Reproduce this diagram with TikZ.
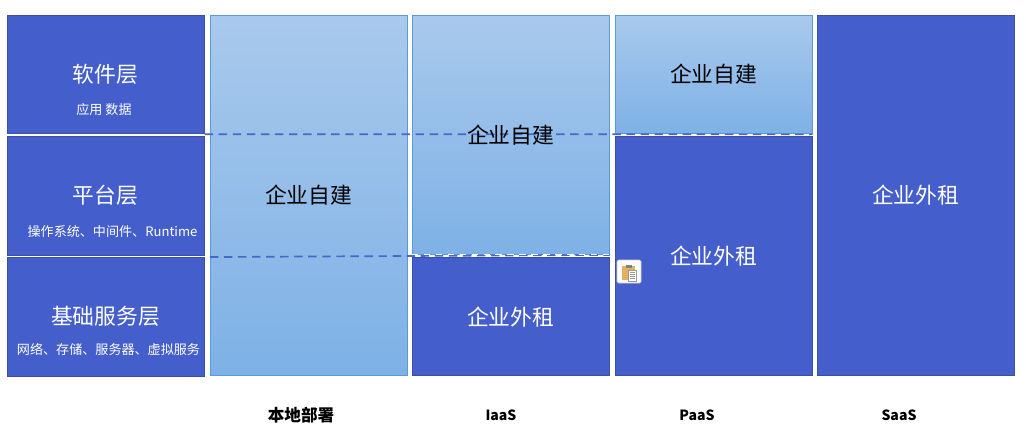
\documentclass[tikz,border=0pt]{standalone}
\usepackage{fontspec}
\setmainfont{Noto Sans CJK SC}
\usetikzlibrary{positioning}
\definecolor{fdeep}{HTML}{445FCB}
\definecolor{fdeepline}{HTML}{3B509F}
\definecolor{flighttop}{HTML}{A9C9EC}
\definecolor{flightend}{HTML}{7EB1E6}
\definecolor{flightline}{HTML}{5B9BD5}
\definecolor{fdash}{HTML}{4A66C8}
\definecolor{fclip}{HTML}{E3B05E}
\tikzset{
  rentbox/.style  = {draw=fdeepline, fill=fdeep, text=white, line width=0.6pt,
                     minimum width=49.25mm, inner sep=0pt, font=\fontsize{15.5}{18}\selectfont},
  selfbox/.style  = {draw=flightline, top color=flighttop, bottom color=flightend,
                     line width=0.6pt, minimum width=49.25mm, inner sep=0pt,
                     font=\fontsize{15.5}{18}\selectfont},
  bigtext/.style  = {inner sep=0pt, font=\fontsize{15.5}{18}\selectfont},
  sublabel/.style = {text=white, inner sep=0pt, font=\fontsize{9.3}{11}\selectfont},
  modelname/.style= {inner sep=0pt, font=\fontsize{10}{14}\selectfont\bfseries},
  bound/.style    = {fdash, line width=1.2pt, dash pattern=on 6pt off 4pt},
}
\begin{document}
\begin{tikzpicture}[x=0.25mm,y=-0.25mm]
\useasboundingbox (0,0) rectangle (1026,438);
% left column
\node[rentbox,minimum height=29.6mm] (soft) at (105.75,74.25) {};
\node[rentbox,minimum height=29.75mm] (plat) at (105.75,196.25) {};
\node[rentbox,minimum height=29.6mm] (infra) at (105.75,316.9) {};
\node[bigtext,text=white] (softtitle) at (105.5,74) {软件层};
\node[bigtext,text=white] (plattitle) at (105.5,195) {平台层};
\node[bigtext,text=white] (infratitle) at (105.5,316) {基础服务层};
\node[sublabel] (softsub) at (104,109.5) {应用 数据};
\node[sublabel] (platsub) at (112.5,231.5) {操作系统、中间件、Runtime};
\node[sublabel] (infrasub) at (108.5,349) {网络、存储、服务器、虚拟服务};
% the four models
\node[selfbox,minimum height=90mm] (onprem) at (308.75,195.5) {};
\node[selfbox,minimum height=59.75mm] (iaasself) at (510.75,135) {};
\node[rentbox,minimum height=29.5mm] (iaasrent) at (510.75,316.75) {企业外租};
\node[selfbox,minimum height=29.5mm] (paasself) at (713.75,74.5) {企业自建};
\node[rentbox,minimum height=59.75mm] (paasrent) at (713.75,256) {企业外租};
\node[rentbox,minimum height=90mm] (saasrent) at (915.75,195.5) {企业外租};
% boundaries
\coordinate (upleft) at (soft.south east);
\coordinate (upright) at (paasself.south east);
\coordinate (lowleft) at (onprem.west |- iaasself.south);
\coordinate (lowright) at (iaasself.south east);
\draw[bound] ([yshift=-0.3pt]upleft) -- ([yshift=-0.3pt]upright);
\draw[bound] ([yshift=-1.5pt]lowleft) -- ([yshift=0pt]lowright);
\draw[white,line width=0.7pt,dash pattern=on 4.5pt off 4pt] ([yshift=0.3pt]iaasself.south west) -- ([yshift=0.3pt]lowright);
% labels over the lines
\node[bigtext] (onpremtext) at (onprem.center) {企业自建};
\node[bigtext] (iaastext) at (iaasself.center) {企业自建};
\node[modelname,font=\fontsize{11.8}{14}\selectfont\bfseries] (onpremname) at (301,415) {本地部署};
\node[modelname] (iaasname) at (501,415) {IaaS};
\node[modelname] (paasname) at (697,415.5) {PaaS};
\node[modelname] (saasname) at (899,415.5) {SaaS};
% paste icon
\draw[draw=black!20,fill=white,rounded corners=1pt] (617,260) rectangle (641,283);
\fill[fclip] (622,266) rectangle (635,280);
\draw[draw=black!40,fill=white,line width=0.3pt] (628,270) rectangle (636,281);
\foreach \yy in {272.5,274.5,276.5,278.5}
  \draw[black!40,line width=0.3pt] (629.5,\yy) -- (634.5,\yy);
\fill[black!50] (625.5,264.5) rectangle (631.5,267.5);
\end{tikzpicture}
\end{document}
